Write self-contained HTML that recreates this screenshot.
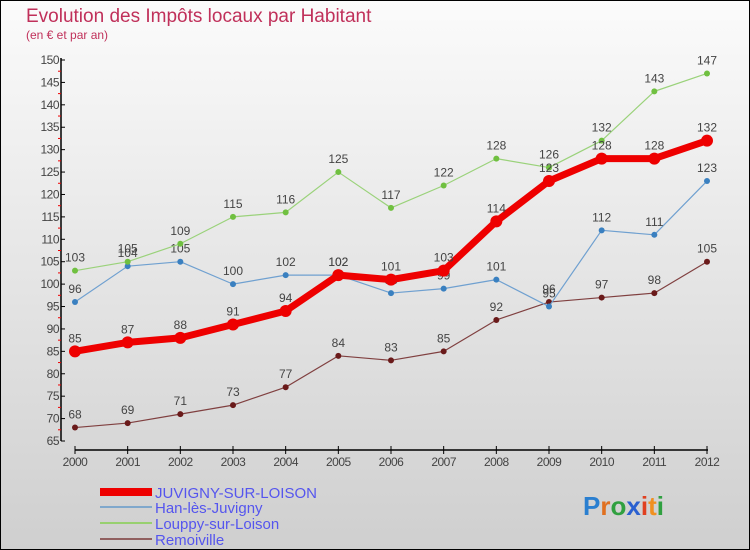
<!DOCTYPE html>
<html><head><meta charset="utf-8"><style>
body{margin:0;width:750px;height:550px;overflow:hidden;font-family:"Liberation Sans",sans-serif}
svg{display:block}
</style></head><body>
<svg width="750" height="550" xmlns="http://www.w3.org/2000/svg">
<defs><linearGradient id="bg" x1="0" y1="0" x2="0" y2="1"><stop offset="0" stop-color="#fbfbfb"/><stop offset="1" stop-color="#cfcfcf"/></linearGradient></defs>
<rect x="0.5" y="0.5" width="749" height="549" fill="url(#bg)" stroke="#000"/>
<text x="26" y="22" font-size="19" fill="#c0305a">Evolution des Impôts locaux par Habitant</text>
<text x="26" y="39" font-size="12" fill="#c0305a">(en € et par an)</text>
<g id="axes"></g>
<g id="series"></g>
<g>
<rect x="100" y="488" width="52" height="8" fill="#e00"/>
<text x="155" y="498" font-size="15" fill="#5555ee">JUVIGNY-SUR-LOISON</text>
<line x1="100" y1="507" x2="152" y2="507" stroke="#80a8cc" stroke-width="2"/>
<text x="155" y="513" font-size="15" fill="#5555ee">Han-lès-Juvigny</text>
<line x1="100" y1="523" x2="152" y2="523" stroke="#98d070" stroke-width="2"/>
<text x="155" y="529" font-size="15" fill="#5555ee">Louppy-sur-Loison</text>
<line x1="100" y1="539" x2="152" y2="539" stroke="#906060" stroke-width="2"/>
<text x="155" y="545" font-size="15" fill="#5555ee">Remoiville</text>
</g>
<text x="583" y="515" font-size="26" font-weight="bold"><tspan fill="#2a7fd0">P</tspan><tspan fill="#e07020">r</tspan><tspan fill="#30a040">o</tspan><tspan fill="#2a60d0">x</tspan><tspan fill="#e04020">i</tspan><tspan fill="#f09020">t</tspan><tspan fill="#30a040">i</tspan></text>
</svg>
<script>
const years=[2000,2001,2002,2003,2004,2005,2006,2007,2008,2009,2010,2011,2012];
const yTicks=[65,70,75,80,85,90,95,100,105,110,115,120,125,130,135,140,145,150];
const juvigny=[85,87,88,91,94,102,101,103,114,123,128,128,132];
const han=[96,104,105,100,102,102,98,99,101,95,112,111,123];
const louppy=[103,105,109,115,116,125,117,122,128,126,132,143,147];
const remoiville=[68,69,71,73,77,84,83,85,92,96,97,98,105];
const NS="http://www.w3.org/2000/svg";
function X(i){return 75+i*(707-75)/(years.length-1);}
function Y(v){return 441-(v-65)*(441-60)/(150-65);}
function mk(tag,attrs,parent){const e=document.createElementNS(NS,tag);for(const k in attrs)e.setAttribute(k,attrs[k]);parent.appendChild(e);return e;}
const ax=document.getElementById('axes');
let l=mk('line',{x1:61,y1:58,x2:61,y2:441,stroke:'#000','stroke-width':1.5},ax);


yTicks.forEach(v=>{
 const t=mk('line',{x1:61,y1:Y(v),x2:65,y2:Y(v),stroke:'#000'},ax);
 
 
 if(v<150){const m=mk('line',{x1:58,y1:Y(v+2.5),x2:61,y2:Y(v+2.5),stroke:'#e00'},ax);
 
 }
 const tx=mk('text',{x:59,y:Y(v)+4,'font-size':12,'text-anchor':'end',fill:'#444','letter-spacing':'-0.5'},ax);
 tx.textContent=v;
 
 
});
l=mk('line',{x1:75,y1:450,x2:708,y2:450,stroke:'#000','stroke-width':1.5},ax);


years.forEach((y,i)=>{
 const t=mk('line',{x1:X(i),y1:446,x2:X(i),y2:454,stroke:'#000'},ax);
 
 
 const tx=mk('text',{x:X(i),y:466,'font-size':12,'text-anchor':'middle',fill:'#444','letter-spacing':'-0.5'},ax);
 tx.textContent=y;
 
 
});
const sg=document.getElementById('series');
function draw(data,name,color,dot,w,r){
 const g=mk('g',{},sg);
 
 
 const p=mk('polyline',{points:data.map((v,i)=>X(i)+','+Y(v)).join(' '),fill:'none',stroke:color,'stroke-width':w,'stroke-linejoin':'round'},g);
 
 
 data.forEach((v,i)=>{
  const c=mk('circle',{cx:X(i),cy:Y(v),r:r,fill:dot},g);
  
  
  const t=mk('text',{x:X(i),y:Y(v)-9,'font-size':12,'text-anchor':'middle',fill:'#444'},g);
  t.textContent=v;
  
  
 });
}
draw(remoiville,'remoiville','#804040','#6a1a1a',1.2,3);
draw(han,'han','#6fa0d0','#3a80c0',1.2,3);
draw(louppy,'louppy','#9ad27a','#70c040',1.2,3);
draw(juvigny,'juvigny','#ee0000','#ee0000',7,6);
</script>
</body></html>
